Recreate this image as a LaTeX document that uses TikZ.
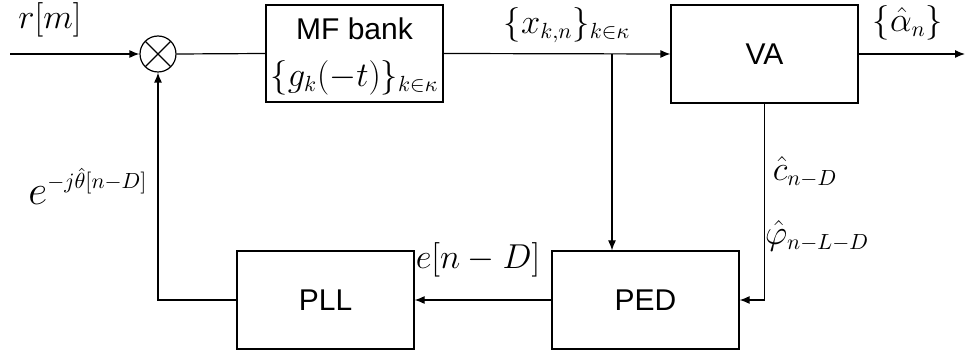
\documentclass[tikz,border=0pt]{standalone}
\usepackage{fontspec}
\setsansfont{Liberation Sans}
\usetikzlibrary{arrows.meta,positioning}
\tikzset{
  blk/.style={draw, rectangle, font=\sffamily\fontsize{15}{18}\selectfont},
  blktxt/.style={font=\sffamily\fontsize{15}{18}\selectfont},
  mixer/.style={draw, circle, minimum size=18pt, inner sep=0pt,
    path picture={\draw (path picture bounding box.north west) -- (path picture bounding box.south east)
      (path picture bounding box.north east) -- (path picture bounding box.south west);}},
  lbl/.style={font=\fontsize{16}{19}\selectfont, inner sep=1pt},
}
\begin{document}
\begin{tikzpicture}[x=0.5pt,y=-0.5pt,line width=0.6pt,>={Latex[length=5pt,width=4pt]}]
\useasboundingbox (0,0) rectangle (968,352);

% forward path
\coordinate (in) at (10,54);
\node[mixer] (mix) at (158,54) {};
\node[blk, minimum width=88.5pt, minimum height=48.5pt] (mf) at (354.5,53.5) {};
\node[blktxt] (mft) at (354.5,29) {MF bank};
\node[lbl] (mfg) at (354.5,78) {$\{g_k(-t)\}_{k\in\kappa}$};
\node[blk, minimum width=93.5pt, minimum height=49pt] (va) at (764.5,54) {VA};
\coordinate (out) at (965,54);
\coordinate (br) at (612,54);

% loop blocks
\node[blk, minimum width=93.5pt, minimum height=49pt] (ped) at (645.5,300) {PED};
\node[blk, minimum width=88.5pt, minimum height=49pt] (pll) at (325.5,300) {PLL};

\draw[->] (in) -- (mix.west);
\draw (mix.east) -- (mf.west);
\draw[->] (mf.east) -- (va.west);
\draw[->] (va.east) -- (out);
\draw[->] (br) -- (br |- ped.north);
\draw[->] (va.south) |- (ped.east);
\draw[->] (ped.west) -- (pll.east);
\draw[->] (pll.west) -| (mix.south);

% labels
\node[lbl] (lr) at (50,20) {$r[m]$};
\node[lbl] (lx) at (567,25) {$\{x_{k,n}\}_{k\in\kappa}$};
\node[lbl] (la) at (908,23) {$\{\hat{\alpha}_n\}$};
\node[lbl] (lc) at (805,172) {$\hat{c}_{n-D}$};
\node[lbl] (lp) at (817,236) {$\hat{\varphi}_{n-L-D}$};
\node[lbl] (le) at (478,260) {$e[n-D]$};
\node[lbl, font=\fontsize{22}{26}\selectfont] (lt) at (88,186) {$e^{\scriptscriptstyle -j\hat{\theta}[n-D]}$};
\end{tikzpicture}
\end{document}
